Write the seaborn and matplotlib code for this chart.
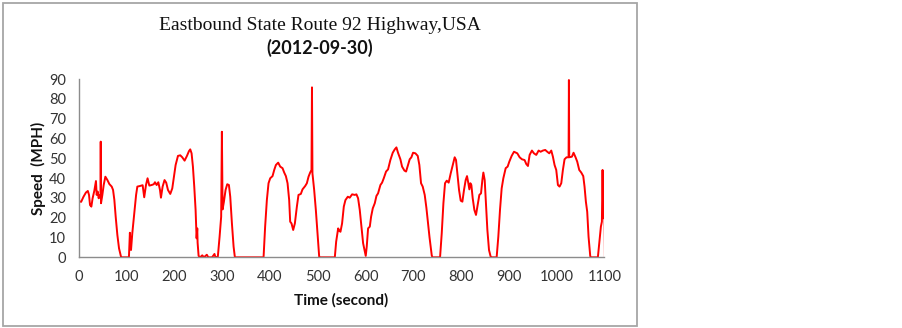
import matplotlib
matplotlib.use("Agg")
import matplotlib.pyplot as plt
import matplotlib.patches as patches
import seaborn as sns
import pandas as pd

time_s = [0, 5, 10, 15, 19, 21.5, 23.6, 26.4, 29, 32.7, 36, 37.5, 39.7, 41.7, 43.8, 45.5, 46, 46.6,
          49.4, 52.2, 55.7, 60, 64, 69, 71.8, 74.5, 77.3, 80.8, 84.3, 88.4, 89.5, 105, 107, 109.4,
          112, 116, 120, 122.6, 128, 133.7, 137, 140.7, 144, 147.7, 152.5, 157, 159.5, 163, 166.5,
          170, 172, 175.5, 179.5, 183, 186.7, 191.5, 195.7, 199.2, 202.7, 207.6, 212.4, 216.6,
          221.5, 226.4, 230.6, 233.3, 236.1, 238.9, 241.7, 244.5, 246.6, 248, 248.7, 250.8, 254,
          258.4, 262, 268, 271, 279, 284, 286, 291, 294.7, 298, 299.5, 301, 303.7, 307.2, 310.7,
          314.2, 317, 320.5, 324, 326.7, 386.7, 390, 393.6, 397.1, 400.6, 405.5, 409, 412.5, 417.3,
          421.5, 426.4, 429.9, 433.4, 436.9, 440.3, 442.4, 445.2, 448.7, 452.2, 456.4, 459.8, 464.7,
          468.2, 473.8, 477.3, 480.8, 484.2, 487, 488, 489, 492.6, 496.1, 499.6, 503.1, 505, 535.8,
          538.6, 542.8, 545.6, 547.6, 551, 554.6, 558, 563, 567, 572, 577.6, 581, 584.5, 588, 591.5,
          595, 598.5, 600.5, 602.6, 605.4, 609, 611.7, 615.2, 619.4, 622.9, 626.3, 631.2, 634.7,
          638.2, 643, 647.2, 652, 657, 661.2, 664.7, 668, 673, 676.5, 681.4, 684.9, 689, 692.5, 696,
          699.5, 704.4, 709.3, 712.7, 716.2, 719.7, 723.9, 727.4, 731, 734, 738.6, 740, 756, 759.5,
          763, 766.4, 770, 774, 778.3, 782.5, 786.6, 789.4, 792.2, 795.7, 799.2, 802.7, 806.1, 809.6,
          812.4, 815.2, 817.3, 819.4, 821.5, 824.3, 827.8, 831.2, 834.7, 838.2, 841.7, 844.5, 846.6,
          849.4, 852.1, 855, 858.4, 861.9, 863, 874.4, 877.9, 881.4, 884.9, 888.4, 893.3, 897.4,
          900.9, 905.8, 910.7, 917.6, 922.5, 927.3, 932.9, 936.4, 939.9, 943.4, 948.2, 952.4, 957.3,
          962.2, 966.4, 971.2, 976.1, 980.3, 984.5, 988.7, 992.1, 995.6, 999.1, 1002.6, 1006, 1009.6,
          1013, 1016.5, 1020.7, 1024.9, 1025.6, 1026.3, 1031.9, 1035.3, 1039.5, 1043, 1047.2, 1051.4,
          1055.6, 1058.3, 1061.1, 1063.9, 1066.7, 1070.2, 1071, 1086.2, 1089.7, 1092.5, 1094.6, 1096,
          1097.4, 1098.8, 1100.2, 1100.9]

speed_mph = [28.4, 28, 30.6, 32.7, 33.5, 31.5, 26.4, 25.6, 29.8, 33.7, 38.5, 31.5, 33.2, 29.8, 31.5, 30, 58.4, 27.3,
             31.5, 36.5, 40.7, 39, 37, 35.7, 34, 29, 20.5, 11.3, 4.5, 0.3, 0, 0, 12.4, 3.7,
             12, 22, 31.5, 35.7, 36, 36.4, 30.3, 36.5, 39.9, 36.2, 36.5, 36.9, 37.9, 36.5, 37.9,
             34, 30.1, 35.7, 39, 37.7, 34, 32, 34.8, 40.7, 46.6, 51.2, 51.5, 50.5,
             48.8, 51.2, 53.6, 54.5, 52.5, 45.8, 35.7, 23.9, 9.6, 14.6, 7.4, 0.7, 0,
             1, 0, 1.3, 0, 0, 1.7, 0, 0.3, 10.4, 20.5, 63.4, 24.2, 28, 34, 36.9,
             36.5, 30.6, 17.1, 5.4, 0, 0, 15.5, 28.9, 37.4, 39.9, 41, 44.1, 46.6, 47.8,
             45.8, 45, 42.8, 41, 37.4, 28.9, 18, 17.1, 13.8, 17.1, 25.6, 31.5, 32,
             34.3, 36, 37.4, 40.7, 42.8, 44.1, 85.8, 42.4, 34, 23.9, 12.1, 0.3, 0, 0,
             7.9, 14.6, 13.3, 12.9, 17.1, 25.6, 28.9, 30.6, 30.1, 31.8, 31.5, 31.8, 29.8, 23.9, 15.5,
             7.1, 2.9, 0.7, 5.4, 14.6, 15.5, 20.5, 24.7, 27.3, 31, 32.3, 36.5, 37.7,
             39.9, 43.3, 44.4, 49.1, 52.8, 54.5, 55.5, 52.8, 49.5, 45.8, 43.8, 43.3, 46.6, 49.5, 50.5,
             52.8, 52.5, 51.2, 46.6, 37.4, 35.7, 31.5, 25, 17, 10, 1, 0, 0, 12.1,
             27.3, 37.4, 38.7, 37.7, 42.4, 46.6, 50.5, 49.1, 42.4, 34, 28.6, 28.1, 34, 39,
             41, 37.4, 34.3, 37.4, 36.5, 29.8, 23.9, 21.4, 26.4, 31.5, 32.3, 39, 42.8,
             39, 27.3, 13.8, 3.7, 0.3, 0, 0, 10.4, 23.9, 34.8, 39.9, 45, 45.8,
             48.3, 51.2, 53.3, 52.5, 50.5, 49.5, 49.1, 47.1, 46.1, 51.7, 53.9, 52.5, 51.7,
             53.9, 53.3, 53.9, 54.2, 53.3, 52.5, 53.9, 50.8, 46.6, 44.1, 36.5, 35.7, 37.4,
             44.1, 49.5, 50.5, 50.5, 89.5, 50.5, 50.8, 52.8, 50.5, 48.3, 44.1, 42.8,
             41, 35.7, 28.1, 23, 10.4, 0.7, 0, 0, 8.7, 15.5, 18, 44.1,
             19.7, 28.9, 23.9, 0]

title_line1 = "Eastbound State Route 92 Highway,USA"
title_line2 = "(2012-09-30)"
x_label = "Time (second)"
y_label = "Speed  (MPH)"
x_ticks = list(range(0, 1101, 100))
y_ticks = list(range(0, 91, 10))

df = pd.DataFrame({"time": time_s, "speed": speed_mph})

sns.set_style("white")
plt.rcParams["font.family"] = ["Lato", "DejaVu Sans"]

fig = plt.figure(figsize=(9.03, 3.28), dpi=100)
ax = fig.add_axes([0.0872, 0.2155, 0.5822, 0.5435])

sns.lineplot(data=df, x="time", y="speed", ax=ax, color="#FF0000", linewidth=1.4,
             sort=False, estimator=None)

ax.set_xlim(0, 1100)
ax.set_ylim(0, 90)
ax.set_xticks(x_ticks)
ax.set_yticks(y_ticks)
ax.tick_params(axis="both", direction="out", length=4, width=1, color="#8C8C8C",
               labelsize=10.5, labelcolor="#333333", pad=5)
for side in ["top", "right"]:
    ax.spines[side].set_visible(False)
for side in ["left", "bottom"]:
    ax.spines[side].set_color("#8C8C8C")
    ax.spines[side].set_linewidth(1)

ax.set_xlabel(x_label, fontsize=11, fontweight="bold", color="#111111", labelpad=7)
ax.set_ylabel(y_label, fontsize=11, fontweight="bold", color="#111111", labelpad=2)

fig.text(320 / 903, 1 - 26 / 328, title_line1, ha="center", va="center", fontsize=14,
         family=["Liberation Serif", "DejaVu Serif"], color="#111111")
fig.text(320 / 903, 1 - 48 / 328, title_line2, ha="center", va="center", fontsize=13,
         fontweight="bold", family=["Lato", "DejaVu Sans"], color="#111111")

border = patches.Rectangle((3.5 / 903, 2.5 / 328), (637 - 3.5) / 903, (325.5 - 2.5) / 328,
                           transform=fig.transFigure, fill=False, edgecolor="#A6A6A6",
                           linewidth=1.3)
fig.patches.append(border)

fig.savefig("out.png", dpi=100, facecolor="white")
